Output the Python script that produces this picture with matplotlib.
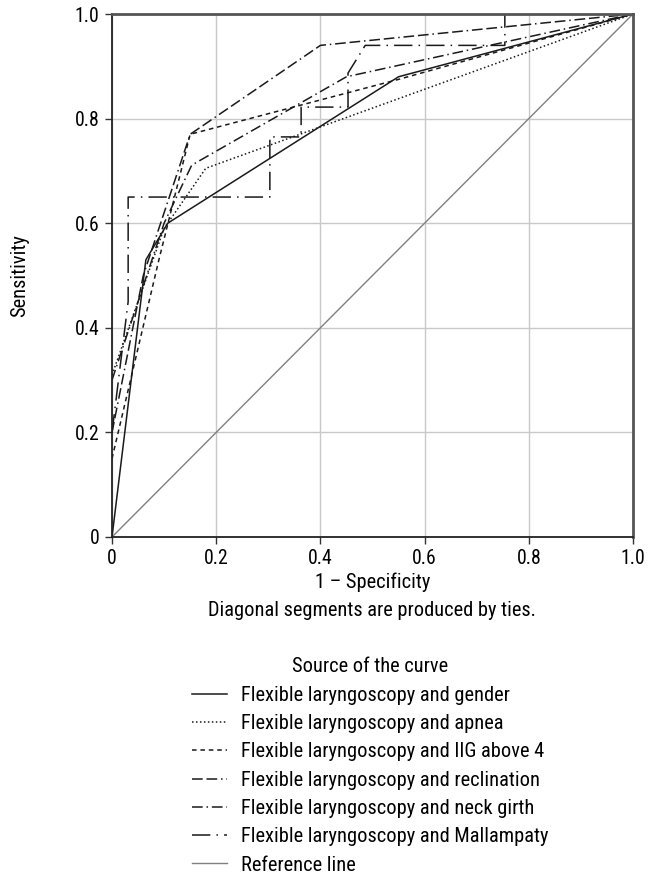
import matplotlib
matplotlib.use("Agg")
import matplotlib.pyplot as plt
from matplotlib import font_manager

entries = font_manager.fontManager.ttflist
names = set(f.name for f in entries)
STRETCH = "normal"
FONT = None
for cand in ["Liberation Sans Narrow", "Roboto Condensed", "Open Sans Condensed",
             "Noto Sans Condensed", "DejaVu Sans Condensed"]:
    if cand in names:
        FONT = cand
        break
if FONT is None:
    cond = [f for f in entries if f.name == "DejaVu Sans" and "condensed" in str(f.stretch)]
    if cond:
        FONT = "DejaVu Sans"
        STRETCH = "condensed"
    elif "Roboto" in names:
        FONT = "Roboto"
    else:
        FONT = "DejaVu Sans"
plt.rcParams['font.family'] = [FONT, 'DejaVu Sans']
plt.rcParams['font.stretch'] = STRETCH

# ---- data (1 - specificity, sensitivity) ----
gender_x = [0, 0.065, 0.107, 0.55, 1.0]
gender_y = [0, 0.53, 0.60, 0.88, 1.0]

apnea_x = [0, 0.10, 0.18, 1.0]
apnea_y = [0.31, 0.59, 0.705, 1.0]

iig_x = [0, 0.09, 0.15, 0.55, 1.0]
iig_y = [0.15, 0.53, 0.77, 0.875, 1.0]

reclination_x = [0, 0.06, 0.15, 0.40, 1.0]
reclination_y = [0.20, 0.50, 0.77, 0.94, 1.0]

neck_x = [0, 0.10, 0.153, 0.45, 1.0]
neck_y = [0.30, 0.60, 0.711, 0.88, 1.0]

mall_x = [0, 0.031, 0.031, 0.303, 0.303, 0.363, 0.363, 0.453, 0.453, 0.486, 0.754, 0.754, 1.0]
mall_y = [0.20, 0.45, 0.65, 0.65, 0.765, 0.765, 0.822, 0.822, 0.887, 0.94, 0.94, 1.0, 1.0]

ref_x = [0, 1]
ref_y = [0, 1]

labels = ["Flexible laryngoscopy and gender",
          "Flexible laryngoscopy and apnea",
          "Flexible laryngoscopy and IIG above 4",
          "Flexible laryngoscopy and reclination",
          "Flexible laryngoscopy and neck girth",
          "Flexible laryngoscopy and Mallampaty",
          "Reference line"]

ticks = [0, 0.2, 0.4, 0.6, 0.8, 1.0]
tick_labels = ["0", "0.2", "0.4", "0.6", "0.8", "1.0"]

fig = plt.figure(figsize=(6.52, 8.9), dpi=100)
renderer = fig.canvas.get_renderer()


def measure(text, size):
    t = fig.text(0, 0, text, fontsize=size)
    bb = t.get_window_extent(renderer)
    t.remove()
    return bb.width, bb.height


w0, _ = measure("Diagonal segments are produced by ties.", 10.0)
FS = 10.0 * 325 / w0
FS_PX = FS * 100 / 72
_, h_row = measure("Flexible laryngoscopy and gender", FS)

ax = fig.add_axes([112/652, 1-537/890, (633-112)/652, (537-14)/890])

lc = "#1a1a1a"
lw = 1.1
series = [
    (gender_x, gender_y, "-"),
    (apnea_x, apnea_y, (0, (1, 1.6))),
    (iig_x, iig_y, (0, (3, 2.5))),
    (reclination_x, reclination_y, (0, (7, 2.5, 7, 2.5, 1, 2.5))),
    (neck_x, neck_y, (0, (7, 2.5, 1, 2.5))),
    (mall_x, mall_y, (0, (12, 4, 1, 4))),
]
handles = []
for (x, y, ls), lab in zip(series, labels[:6]):
    h, = ax.plot(x, y, color=lc, lw=lw, linestyle=ls, label=lab)
    handles.append(h)
h, = ax.plot(ref_x, ref_y, color="#808080", lw=1.0, label=labels[6])
handles.append(h)

ax.set_xlim(0, 1)
ax.set_ylim(0, 1)
ax.set_xticks(ticks)
ax.set_xticklabels(tick_labels)
ax.set_yticks(ticks)
ax.set_yticklabels(tick_labels)
ax.grid(True, color="#c8c8c8", lw=1.0)
ax.set_axisbelow(True)
ax.tick_params(labelsize=FS * 0.97, length=5, width=1.0, color="#333333", pad=4)
for s in ["left", "bottom"]:
    ax.spines[s].set_color("#222222")
    ax.spines[s].set_linewidth(1.3)
for s in ["top", "right"]:
    ax.spines[s].set_color("#555555")
    ax.spines[s].set_linewidth(2.0)

ax.set_xlabel("1 – Specificity", fontsize=FS, labelpad=3)
ax.set_ylabel("Sensitivity", fontsize=FS, labelpad=33)
fig.text(372/652, 1-611/890, "Diagonal segments are produced by ties.",
         ha="center", va="center", fontsize=FS)

row_pitch = 28.3
top_px = 667 - h_row / 2 - 0.4 * FS_PX
leg = fig.legend(handles=handles, labels=labels, loc="upper center",
                 bbox_to_anchor=(370/652, 1 - top_px/890), borderaxespad=0,
                 frameon=False, title="Source of the curve",
                 fontsize=FS, title_fontsize=FS,
                 handlelength=35/FS_PX, handletextpad=14/FS_PX,
                 labelspacing=max(0.0, (row_pitch - h_row) / FS_PX))

fig.savefig("out.png", dpi=100)
